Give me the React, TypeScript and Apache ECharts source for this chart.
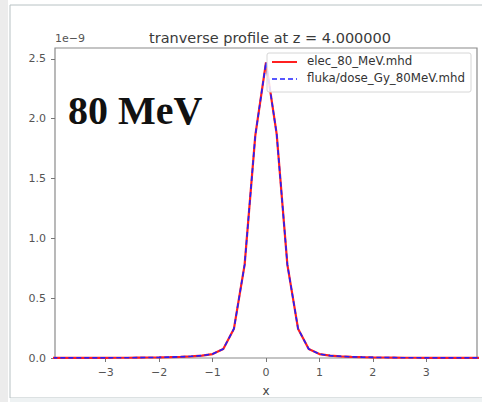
import React, { useEffect, useRef } from "react";
import * as echarts from "echarts";

const xs = [-4.0, -3.8, -3.6, -3.4, -3.2, -3.0, -2.8, -2.6, -2.4, -2.2, -2.0, -1.8, -1.6, -1.4, -1.2, -1.0, -0.8, -0.6, -0.4, -0.2, 0.0, 0.2, 0.4, 0.6, 0.8, 1.0, 1.2, 1.4, 1.6, 1.8, 2.0, 2.2, 2.4, 2.6, 2.8, 3.0, 3.2, 3.4, 3.6, 3.8, 4.0];
const elec = [0.001, 0.001, 0.001, 0.001, 0.001, 0.001, 0.002, 0.002, 0.003, 0.004, 0.005, 0.007, 0.01, 0.014, 0.02, 0.033, 0.075, 0.245, 0.78, 1.86, 2.47, 1.87, 0.78, 0.245, 0.075, 0.033, 0.02, 0.014, 0.01, 0.007, 0.005, 0.004, 0.003, 0.002, 0.002, 0.001, 0.001, 0.001, 0.001, 0.001, 0.001];
const fluka = [0.001, 0.001, 0.001, 0.001, 0.001, 0.001, 0.002, 0.002, 0.003, 0.004, 0.005, 0.007, 0.01, 0.014, 0.02, 0.033, 0.075, 0.245, 0.78, 1.86, 2.47, 1.87, 0.78, 0.245, 0.075, 0.033, 0.02, 0.014, 0.01, 0.007, 0.005, 0.004, 0.003, 0.002, 0.002, 0.001, 0.001, 0.001, 0.001, 0.001, 0.001];
const xTicks = [-3, -2, -1, 0, 1, 2, 3];
const yTicks = [0, 0.5, 1.0, 1.5, 2.0, 2.5];
const seriesNames = ["elec_80_MeV.mhd", "fluka/dose_Gy_80MeV.mhd"];

export default function App() {
  const ref = useRef<HTMLDivElement>(null);
  useEffect(() => {
    const chart = echarts.init(ref.current!, null, { renderer: "svg" });
    const font = "DejaVu Sans";
    chart.setOption({
      animation: false,
      backgroundColor: "#ffffff",
      grid: { left: 55, top: 48, right: 5, bottom: 43, show: true, borderColor: "#8a8a8a", borderWidth: 1.2, backgroundColor: "transparent" },
      title: {
        text: "tranverse profile at z = 4.000000",
        left: 265, top: 25, textAlign: "center",
        textStyle: { fontFamily: font, fontSize: 14.5, fontWeight: "normal", color: "#3a3a3a" },
      },
      xAxis: {
        type: "value", min: -3.95, max: 3.95,
        name: "x", nameLocation: "middle", nameGap: 27,
        nameTextStyle: { fontFamily: font, fontSize: 12, color: "#444" },
        axisLine: { show: false, onZero: false },
        splitLine: { show: false },
        axisTick: { show: true, length: 4, inside: false, customValues: xTicks, lineStyle: { color: "#777" } },
        axisLabel: {
          customValues: xTicks, fontFamily: font, fontSize: 11, color: "#555", margin: 9,
          formatter: (v: number) => (v < 0 ? "\u2212" + Math.abs(v) : String(v)),
        },
      },
      yAxis: {
        type: "value", min: 0, max: 2.59,
        axisLine: { show: false, onZero: false },
        splitLine: { show: false },
        axisTick: { show: true, length: 4, customValues: yTicks, lineStyle: { color: "#777" } },
        axisLabel: {
          customValues: yTicks, fontFamily: font, fontSize: 11, color: "#555", margin: 9,
          formatter: (v: number) => v.toFixed(1),
        },
      },
      series: [
        {
          name: seriesNames[0], type: "line", data: xs.map((x, i) => [x, elec[i]]),
          showSymbol: false, symbol: "none", clip: true,
          lineStyle: { color: "#ff2020", width: 2.2 },
        },
        {
          name: seriesNames[1], type: "line", data: xs.map((x, i) => [x, fluka[i]]),
          showSymbol: false, symbol: "none", clip: true,
          lineStyle: { color: "#2020ff", width: 1.6, type: [5, 3] },
        },
      ],
      graphic: [
        { type: "rect", shape: { x: 0, y: 0, width: 8, height: 402 }, style: { fill: "#ececec" }, silent: true },
        { type: "rect", shape: { x: 10, y: 5, width: 480, height: 393 }, style: { fill: "none", stroke: "#b8c2c4", lineWidth: 1 }, silent: true },
        { type: "rect", shape: { x: 10, y: 398, width: 480, height: 4 }, style: { fill: "#eef2f3" }, silent: true },
        { type: "text", x: 55, y: 33, style: { text: "1e\u22129", font: `11px ${font}`, fill: "#555" } },
        { type: "text", x: 68, y: 90, style: { text: "80 MeV", font: `bold 40px "Liberation Serif"`, fill: "#111" } },
        { type: "rect", shape: { x: 267, y: 53, width: 204, height: 39, r: 2 }, style: { fill: "rgba(255,255,255,0.85)", stroke: "#d6d6d6", lineWidth: 1 }, z: 10 },
        { type: "line", shape: { x1: 272, y1: 62, x2: 297, y2: 62 }, style: { stroke: "#ff2020", lineWidth: 2 }, z: 11 },
        { type: "line", shape: { x1: 272, y1: 79, x2: 297, y2: 79 }, style: { stroke: "#2020ff", lineWidth: 1.6, lineDash: [5, 3] }, z: 11 },
        { type: "text", x: 307, y: 55, style: { text: seriesNames[0], font: `11.8px ${font}`, fill: "#333" }, z: 11 },
        { type: "text", x: 307, y: 72, style: { text: seriesNames[1], font: `11.8px ${font}`, fill: "#333" }, z: 11 },
      ],
    });
    return () => chart.dispose();
  }, []);
  return <div ref={ref} style={{ width: 482, height: 402, position: "fixed", left: 0, top: 0 }} />;
}
